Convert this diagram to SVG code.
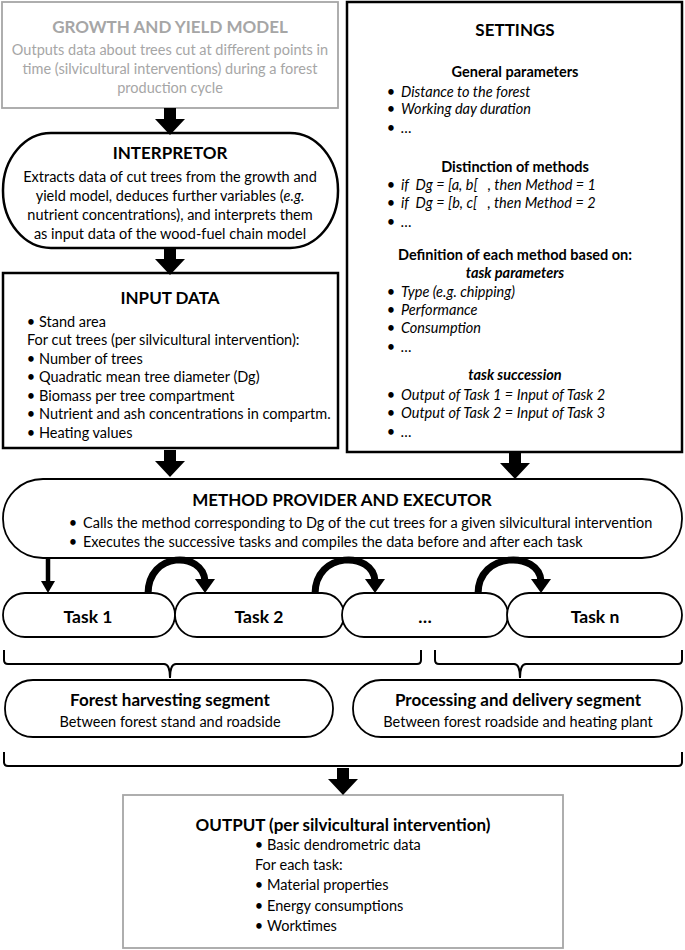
<svg xmlns="http://www.w3.org/2000/svg" width="685" height="950" viewBox="0 0 685 950">
<style>
text{font-family:Lato,"Open Sans","Liberation Sans",sans-serif;font-size:14.5px;fill:#000}
.b{font-weight:bold}
.t{font-size:17px;font-weight:bold}
.i{font-style:italic}
.g{fill:#a6a6a6}
.c{text-anchor:middle}
.tk{font-size:17.5px;font-weight:bold;text-anchor:middle}
.box{fill:#fff;stroke:#000;stroke-width:2.5}
.thin{fill:#fff;stroke:#000;stroke-width:1.8}
.gbox{fill:#fff;stroke:#a6a6a6;stroke-width:1.8}
.brace{fill:none;stroke:#000;stroke-width:2}
.arc{fill:none;stroke:#000;stroke-width:7}
.blk{fill:#000}
</style>
<defs>
<polygon id="blockArrow" points="-6,0 6,0 6,11 15,11 0,27 -15,11 -6,11"/>
</defs>

<g id="growth">
<rect class="gbox" x="2" y="2" width="336" height="106"/>
<text class="t g c" x="170" y="33">GROWTH AND YIELD MODEL</text>
<text class="g c" x="170" y="55">Outputs data about trees cut at different points in</text>
<text class="g c" x="170" y="74">time (silvicultural interventions) during a forest</text>
<text class="g c" x="170" y="93">production cycle</text>
</g>

<g id="settings">
<rect class="box" x="347" y="2" width="335" height="450" stroke-width="3"/>
<text class="t c" x="515" y="36" font-size="18">SETTINGS</text>
<text class="b c" x="515" y="77">General parameters</text>
<text x="391" y="97" class="c">•</text><text class="i" x="401" y="97">Distance to the forest</text>
<text x="391" y="114" class="c">•</text><text class="i" x="401" y="114">Working day duration</text>
<text x="391" y="133" class="c">•</text><text class="i" x="401" y="133">…</text>
<text class="b c" x="515" y="172">Distinction of methods</text>
<text x="391" y="190" class="c">•</text><text class="i" x="401" y="190" xml:space="preserve">if  Dg = [a, b[   , then Method = 1</text>
<text x="391" y="208" class="c">•</text><text class="i" x="401" y="208" xml:space="preserve">if  Dg = [b, c[   , then Method = 2</text>
<text x="391" y="227" class="c">•</text><text class="i" x="401" y="227">…</text>
<text class="b c" x="515" y="260">Definition of each method based on:</text>
<text class="b i c" x="515" y="278">task parameters</text>
<text x="391" y="297" class="c">•</text><text class="i" x="401" y="297">Type (e.g. chipping)</text>
<text x="391" y="315" class="c">•</text><text class="i" x="401" y="315">Performance</text>
<text x="391" y="333" class="c">•</text><text class="i" x="401" y="333">Consumption</text>
<text x="391" y="352" class="c">•</text><text class="i" x="401" y="352">…</text>
<text class="b i c" x="515" y="380">task succession</text>
<text x="391" y="400" class="c">•</text><text class="i" x="401" y="400">Output of Task 1 = Input of Task 2</text>
<text x="391" y="418" class="c">•</text><text class="i" x="401" y="418">Output of Task 2 = Input of Task 3</text>
<text x="391" y="437" class="c">•</text><text class="i" x="401" y="437">…</text>
</g>

<g id="interpretor">
<rect class="box" x="3" y="133" width="335" height="115" rx="48" ry="57"/>
<text class="t c" x="170" y="159">INTERPRETOR</text>
<text class="c" x="170" y="182">Extracts data of cut trees from the growth and</text>
<text class="c" x="170" y="201">yield model, deduces further variables (<tspan class="i">e.g.</tspan></text>
<text class="c" x="170" y="220">nutrient concentrations), and interprets them</text>
<text class="c" x="170" y="239">as input data of the wood-fuel chain model</text>
</g>

<g id="input">
<rect class="box" x="3" y="273" width="335" height="175"/>
<text class="t c" x="170" y="304">INPUT DATA</text>
<text x="31" y="327" class="c">•</text><text x="39" y="327">Stand area</text>
<text x="27" y="345">For cut trees (per silvicultural intervention):</text>
<text x="31" y="364" class="c">•</text><text x="39" y="364">Number of trees</text>
<text x="31" y="382" class="c">•</text><text x="39" y="382">Quadratic mean tree diameter (Dg)</text>
<text x="31" y="401" class="c">•</text><text x="39" y="401">Biomass per tree compartment</text>
<text x="31" y="419" class="c">•</text><text x="39" y="419">Nutrient and ash concentrations in compartm.</text>
<text x="31" y="438" class="c">•</text><text x="39" y="438">Heating values</text>
</g>

<g id="method">
<rect class="thin" x="3" y="479" width="679" height="79" rx="40" ry="39" stroke-width="2"/>
<text class="t c" x="342" y="506">METHOD PROVIDER AND EXECUTOR</text>
<text x="73" y="528" class="c">•</text><text x="83" y="528">Calls the method corresponding to Dg of the cut trees for a given silvicultural intervention</text>
<text x="73" y="547" class="c">•</text><text x="83" y="547">Executes the successive tasks and compiles the data before and after each task</text>
</g>

<g id="task1">
<rect class="thin" x="3" y="593" width="172" height="44" rx="22"/>
<text class="tk" x="88" y="623">Task 1</text>
</g>
<g id="task2">
<rect class="thin" x="175" y="593" width="169" height="44" rx="22"/>
<text class="tk" x="259" y="623">Task 2</text>
</g>
<g id="task3">
<rect class="thin" x="342" y="593" width="166" height="44" rx="22"/>
<text class="tk" x="425" y="623">…</text>
</g>
<g id="taskn">
<rect class="thin" x="507" y="593" width="175" height="44" rx="22"/>
<text class="tk" x="595" y="623">Task n</text>
</g>

<g id="forest">
<rect class="thin" x="5" y="680" width="328" height="57" rx="28"/>
<text class="t c" x="170" y="706">Forest harvesting segment</text>
<text class="c" x="170" y="727" font-size="14">Between forest stand and roadside</text>
</g>
<g id="processing">
<rect class="thin" x="353" y="680" width="329" height="57" rx="28"/>
<text class="t c" x="518" y="706">Processing and delivery segment</text>
<text class="c" x="518" y="727" font-size="14">Between forest roadside and heating plant</text>
</g>

<g id="output">
<rect class="gbox" x="123" y="795" width="440" height="153"/>
<text class="t c" x="343" y="831">OUTPUT (per silvicultural intervention)</text>
<text x="259" y="850" class="c">•</text><text x="267" y="850">Basic dendrometric data</text>
<text x="255" y="870">For each task:</text>
<text x="259" y="890" class="c">•</text><text x="267" y="890">Material properties</text>
<text x="259" y="911" class="c">•</text><text x="267" y="911">Energy consumptions</text>
<text x="259" y="931" class="c">•</text><text x="267" y="931">Worktimes</text>
</g>

<g id="connectors">
<use href="#blockArrow" x="170" y="108"/>
<use href="#blockArrow" x="170" y="248"/>
<use href="#blockArrow" x="170" y="450"/>
<use href="#blockArrow" x="515" y="452"/>
<use href="#blockArrow" x="343" y="768"/>
<path d="M48,559 L48,582" stroke="#000" stroke-width="4.5" fill="none"/>
<polygon class="blk" points="41,581 55,581 48,593"/>
<path class="arc" d="M148,594 C148,551 203,551 205,581"/>
<polygon class="blk" points="195,579 215,579 205,593"/>
<path class="arc" d="M315,594 C315,551 373,551 375,581"/>
<polygon class="blk" points="365,579 385,579 375,593"/>
<path class="arc" d="M478,594 C478,551 539,551 541,581"/>
<polygon class="blk" points="531,579 551,579 541,593"/>
<path class="brace" d="M4,650 L4,660 Q4,664 8,664 L164,664 Q170,664 170,678 Q170,664 176,664 L417,664 Q421,664 421,660 L421,650"/>
<path class="brace" d="M435,650 L435,660 Q435,664 439,664 L514,664 Q520,664 520,678 Q520,664 526,664 L678,664 Q682,664 682,660 L682,650"/>
<path class="brace" d="M4,752 L4,762 Q4,766 8,766 L678,766 Q682,766 682,762 L682,752"/>
</g>
</svg>
